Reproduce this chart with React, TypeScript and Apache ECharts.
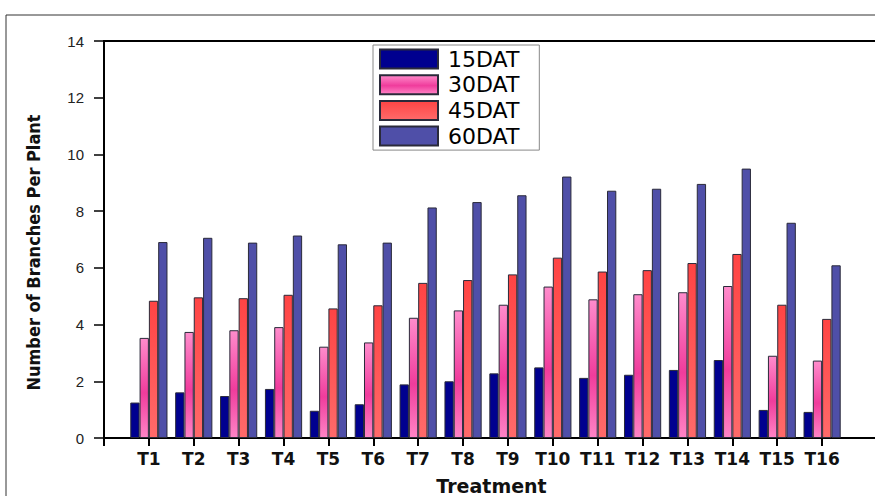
import React, { useEffect, useRef } from "react";
import * as echarts from "echarts";

const categories = ["", "T1", "T2", "T3", "T4", "T5", "T6", "T7", "T8", "T9", "T10", "T11", "T12", "T13", "T14", "T15", "T16", ""];
const seriesNames = ["15DAT", "30DAT", "45DAT", "60DAT"];
const dat15 = [null, 1.25, 1.61, 1.48, 1.73, 0.96, 1.19, 1.89, 2.0, 2.28, 2.49, 2.12, 2.23, 2.4, 2.75, 0.99, 0.92, null];
const dat30 = [null, 3.53, 3.74, 3.8, 3.91, 3.22, 3.37, 4.24, 4.5, 4.7, 5.34, 4.89, 5.07, 5.14, 5.36, 2.9, 2.73, null];
const dat45 = [null, 4.84, 4.96, 4.93, 5.05, 4.57, 4.68, 5.47, 5.57, 5.77, 6.36, 5.87, 5.92, 6.17, 6.49, 4.7, 4.2, null];
const dat60 = [null, 6.91, 7.06, 6.89, 7.14, 6.83, 6.89, 8.13, 8.32, 8.56, 9.22, 8.72, 8.79, 8.96, 9.5, 7.59, 6.09, null];
const yTicks = { min: 0, max: 14, interval: 2 };

export default function App() {
  const ref = useRef<HTMLDivElement>(null);
  useEffect(() => {
    document.body.style.margin = "0";
    if (!ref.current) return;
    const chart = echarts.init(ref.current, null, { renderer: "svg" });
    const grad = (stops: [number, string][]) =>
      new echarts.graphic.LinearGradient(0, 0, 0, 1, stops.map(([offset, color]) => ({ offset, color })));
    const fills = [
      "#00008f",
      grad([[0, "#ff8ccc"], [0.55, "#f03c9c"], [1, "#ff84c6"]]),
      grad([[0, "#ff4444"], [1, "#ff6a6a"]]),
      "#4f4fa8",
    ];
    const datas = [dat15, dat30, dat45, dat60];
    const series = seriesNames.map((name, i) => ({
      name,
      type: "bar",
      data: datas[i],
      barWidth: 9.3,
      barGap: "0%",
      itemStyle: { color: fills[i], borderColor: "#2a2a3a", borderWidth: 1 },
    }));
    chart.setOption({
      animation: false,
      backgroundColor: "#ffffff",
      grid: { left: 104, top: 41, bottom: 58, right: 8, outerBoundsMode: "none", containLabel: false },
      legend: {
        orient: "vertical",
        left: 373,
        top: 45,
        itemWidth: 58,
        itemHeight: 19,
        itemGap: 3.7,
        padding: [3, 20, 3, 6],
        borderColor: "#888",
        borderWidth: 1,
        borderRadius: 0,
        icon: "rect",
        textStyle: {
          fontFamily: "'DejaVu Sans', sans-serif",
          fontSize: 22,
          lineHeight: 19,
          color: "#000",
          padding: [0, 0, 0, 5],
        },
        data: seriesNames,
      },
      xAxis: {
        type: "category",
        data: categories,
        boundaryGap: false,
        axisLine: { lineStyle: { color: "#000", width: 2 } },
        axisTick: { length: 8, lineStyle: { color: "#000", width: 2 }, interval: (i: number) => i <= 16 },
        axisLabel: {
          interval: 0,
          margin: 12,
          fontFamily: "'DejaVu Sans', sans-serif",
          fontWeight: "bold",
          fontSize: 17,
          color: "#111",
        },
        name: "Treatment",
        nameLocation: "middle",
        nameGap: 38,
        nameTextStyle: {
          fontFamily: "'DejaVu Sans', sans-serif",
          fontWeight: "bold",
          fontSize: 19,
          lineHeight: 19,
          color: "#111",
          padding: [0, 0, 0, 12],
        },
      },
      yAxis: {
        type: "value",
        min: yTicks.min,
        max: yTicks.max,
        interval: yTicks.interval,
        splitLine: { show: false },
        axisLine: { show: true, lineStyle: { color: "#000", width: 2 } },
        axisTick: { show: true, length: 10, lineStyle: { color: "#000", width: 1.5 } },
        axisLabel: { margin: 20, fontFamily: "'Liberation Sans', Arial, sans-serif", fontSize: 15, color: "#222" },
        name: "Number of Branches Per Plant",
        nameLocation: "middle",
        nameGap: 62,
        nameTextStyle: {
          fontFamily: "'Liberation Sans Narrow', 'DejaVu Sans Condensed', sans-serif",
          fontWeight: "bold",
          fontSize: 18,
          color: "#111",
          padding: [0, 26, 0, 0],
        },
      },
      graphic: [
        { type: "line", shape: { x1: 6, y1: 15, x2: 875, y2: 15 }, style: { stroke: "#333", lineWidth: 1 } },
        { type: "line", shape: { x1: 6, y1: 15, x2: 6, y2: 496 }, style: { stroke: "#333", lineWidth: 1 } },
        { type: "line", shape: { x1: 103, y1: 41, x2: 875, y2: 41 }, style: { stroke: "#000", lineWidth: 2 } },
        { type: "line", shape: { x1: 860, y1: 438, x2: 875, y2: 438 }, style: { stroke: "#000", lineWidth: 2 } },
      ],
      series,
    });
    return () => chart.dispose();
  }, []);
  return <div ref={ref} style={{ width: 875, height: 496 }} />;
}
